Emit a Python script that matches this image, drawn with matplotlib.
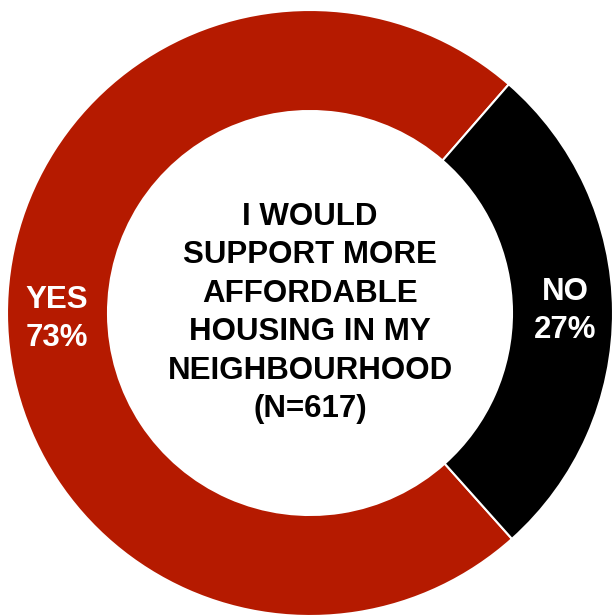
import matplotlib
matplotlib.use("Agg")
import matplotlib.pyplot as plt

# survey answers
labels = ["YES", "NO"]
shares = [73, 27]
colors = ["#B51A00", "#000000"]
question = "I WOULD\nSUPPORT MORE\nAFFORDABLE\nHOUSING IN MY\nNEIGHBOURHOOD\n(N=617)"

plt.rcParams["font.family"] = ["Liberation Sans", "DejaVu Sans"]

fig = plt.figure(figsize=(6.14, 6.16), dpi=100)
ax = fig.add_axes([0, 0, 1, 1])

cx, cy = 310, 303
r_out, r_in = 303, 202

ax.pie(shares, colors=colors, startangle=49, counterclock=True,
       center=(cx, cy), radius=r_out,
       wedgeprops=dict(width=r_out - r_in, edgecolor="white", linewidth=1.5))

ax.text(cx, cy, question, ha="center", va="center", fontsize=22.5,
        fontweight="bold", color="black", linespacing=1.37)

# wedge labels sit in the middle of the ring
ax.text(57, cy - 6, "{}\n{}%".format(labels[0], shares[0]), ha="center",
        va="center", fontsize=22.5, fontweight="bold", color="white",
        linespacing=1.38)
ax.text(565, cy + 2, "{}\n{}%".format(labels[1], shares[1]), ha="center",
        va="center", fontsize=22.5, fontweight="bold", color="white",
        linespacing=1.38)

ax.set_xlim(0, 614)
ax.set_ylim(0, 616)
ax.set_aspect("equal")
ax.axis("off")

fig.savefig("out.png", dpi=100)
